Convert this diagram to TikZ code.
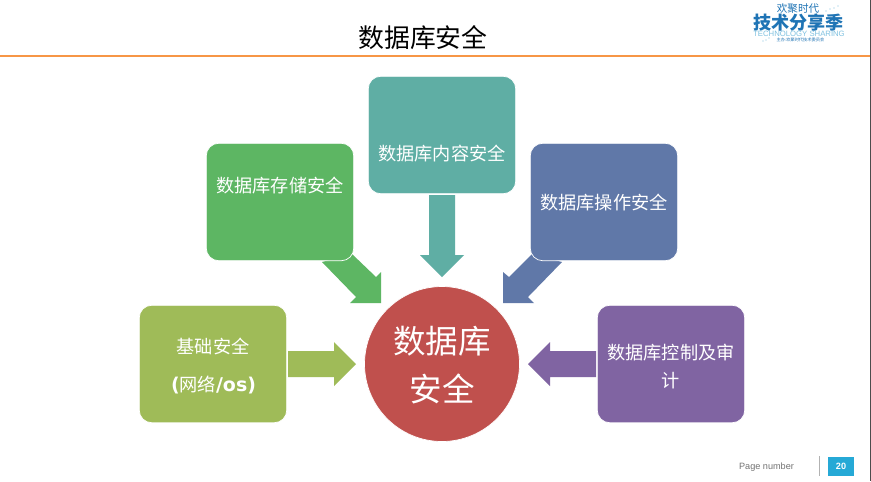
\documentclass[tikz,border=0pt]{standalone}
\usepackage{fontspec}
\setmainfont{Noto Sans CJK SC}
\newfontfamily\latinfont{DejaVu Sans}
\newfontfamily\arialfont{Liberation Sans}
\usepackage{color, xcolor}
\definecolor{headline}{HTML}{F79646}
\definecolor{storegreen}{HTML}{5DB663}
\definecolor{contentteal}{HTML}{5FAEA4}
\definecolor{opblue}{HTML}{6078A8}
\definecolor{baseolive}{HTML}{9FBB58}
\definecolor{auditpurple}{HTML}{8064A2}
\definecolor{corered}{HTML}{C0504D}
\definecolor{pageblue}{HTML}{26A9D6}
\definecolor{logoblue}{HTML}{1F74B5}
\definecolor{logolight}{HTML}{7FC1E0}
\tikzset{
  secbox/.style={draw=white, line width=0.4pt, rounded corners=0.25cm, minimum width=2.95cm, minimum height=2.35cm, outer sep=0pt},
  sectext/.style={text=white, font=\fontsize{10.35}{12}\selectfont, align=center, inner sep=0pt},
  logotext/.style={inner sep=0pt, text=logoblue}
}
\begin{document}
\begin{tikzpicture}[x=0.02cm,y=-0.02cm]
    \useasboundingbox (0,0) rectangle (871,481);
    \fill[white] (0,0) rectangle (871,481);
    \draw[black!70, line width=0.4pt] (870.6,0) -- (870.6,481);

    % header
    \draw[headline, line width=1.4pt] (0,56) -- (870,56);
    \node[inner sep=0pt, font=\fontsize{14.7}{16}\selectfont] (title) at (423,38) {数据库安全};

    % logo
    \node[logotext, font=\fontsize{6}{7}\selectfont] (logotop) at (798,8.5) {欢聚时代};
    \node[logotext, font=\fontsize{10.3}{12}\bfseries\selectfont] (logomain) at (798.5,23) {技术分享季};
    \node[logotext, text=logolight, font=\arialfont\fontsize{4.4}{5}\selectfont] (logoen) at (799,34) {TECHNOLOGY SHARING};
    \node[logotext, font=\fontsize{2.4}{3}\selectfont] (logosub) at (800.5,40) {主办:欢聚时代技术委员会};
    \foreach \x/\y in {826/11,830/9,834/8,838/6,763/41,766/40,769/38}
    \fill[logolight] (\x,\y) circle (0.6);

    % block arrows
    \fill[contentteal] (429,195) -- (455,195) -- (455,255) -- (464,255) -- (442,277) -- (420,255) -- (429,255) -- cycle;
    \fill[storegreen] (322,262) -- (352,254) -- (376,277) -- (381,272) -- (381,303) -- (350,303) -- (356,297) -- cycle;
    \fill[opblue] (562,262) -- (532,254) -- (509,277) -- (503,272) -- (503,303) -- (534,303) -- (528,297) -- cycle;
    \fill[baseolive] (288,351) -- (334,351) -- (334,342) -- (356,364) -- (334,386) -- (334,377) -- (288,377) -- cycle;
    \fill[auditpurple] (596,351) -- (550,351) -- (550,342) -- (528,364) -- (550,386) -- (550,377) -- (596,377) -- cycle;

    % boxes
    \node[secbox, fill=contentteal] (content) at (442,135) {};
    \node[secbox, fill=storegreen] (store) at (280,202) {};
    \node[secbox, fill=opblue] (oper) at (604,202) {};
    \node[secbox, fill=baseolive] (base) at (213,364) {};
    \node[secbox, fill=auditpurple] (audit) at (671,364) {};
    \node[circle, fill=corered, draw=white, line width=0.4pt, minimum size=3.1cm, outer sep=0pt] (core) at (442,364) {};

    % labels
    \node[sectext] (contenttext) at (442,154) {数据库内容安全};
    \node[sectext] (storetext) at (280,186) {数据库存储安全};
    \node[sectext] (opertext) at (604,203) {数据库操作安全};
    \node[sectext] (basetext) at (213,346) {基础安全};
    \node[sectext] (basenote) at (213.5,385) {{\latinfont\bfseries\fontsize{10.8}{12}\selectfont (}网络{\latinfont\bfseries\fontsize{10.8}{12}\selectfont /os)}};
    \node[sectext] (audittext) at (671,366.5) {数据库控制及审\\[0.14cm]计};
    \node[text=white, font=\fontsize{18.5}{22}\selectfont, align=center, inner sep=0pt] (coretext) at (442,365) {数据库\\[0.2cm]安全};

    % footer
    \node[inner sep=0pt, text=black!55, font=\arialfont\fontsize{5.2}{7}\selectfont] (pagelabel) at (766.5,467) {Page number};
    \draw[black!30, line width=0.5pt] (819,456) -- (819,476);
    \node[fill=pageblue, text=white, minimum width=0.52cm, minimum height=0.38cm, inner sep=0pt, font=\arialfont\bfseries\fontsize{5.2}{6}\selectfont] (pagenum) at (841,466.5) {20};
\end{tikzpicture}
\end{document}
